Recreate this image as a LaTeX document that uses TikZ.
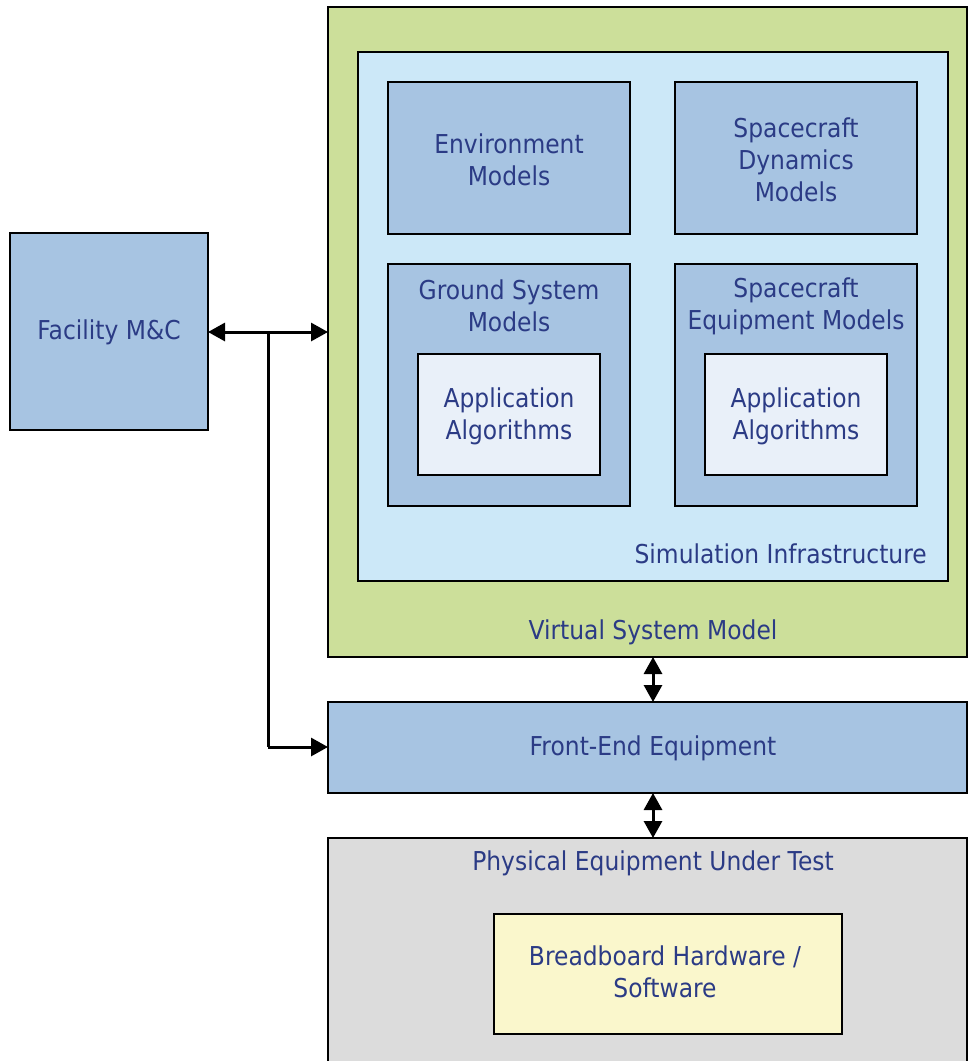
\documentclass[tikz,border=0pt]{standalone}
\usepackage{fontspec}
\setmainfont{DejaVu Sans}[FakeStretch=0.9]
\usetikzlibrary{arrows.meta}
\definecolor{txt}{HTML}{2B3B85}
\definecolor{bluebox}{HTML}{A7C4E2}
\definecolor{greenbox}{HTML}{CCDF9A}
\definecolor{lightblue}{HTML}{CCE8F8}
\definecolor{appbox}{HTML}{E9F0F9}
\definecolor{greybox}{HTML}{DCDCDC}
\definecolor{yellowbox}{HTML}{FAF7CC}
\tikzset{
  box/.style={draw=black, line width=2pt},
  lbl/.style={text=txt, font=\fontsize{26}{32}\selectfont, align=center, inner sep=0pt},
  conn/.style={line width=3pt, {Triangle[length=17pt,width=18pt]}-{Triangle[length=17pt,width=18pt]}},
  conn1/.style={line width=3pt, -{Triangle[length=17pt,width=18pt]}},
}
\begin{document}
\begin{tikzpicture}[x=1pt,y=-1pt]
\useasboundingbox (0,0) rectangle (968,1061);
% Facility
\draw[box, fill=bluebox] (10,233) rectangle (208,430);
\node[lbl] (fac) at (109,332) {Facility M\&C};
\coordinate (facE) at (208,332);
% VSM
\draw[box, fill=greenbox] (328,7) rectangle (967,657);
\node[lbl] (vsmlbl) at (653,632) {Virtual System Model};
\coordinate (vsmW) at (328,332);
\coordinate (vsmS) at (653,657);
% Sim infra
\draw[box, fill=lightblue] (358,52) rectangle (948,581);
\node[lbl, anchor=east] (silbl) at (927,554) {Simulation Infrastructure};
% inner
\draw[box, fill=bluebox] (388,82) rectangle (630,234);
\node[lbl] (env) at (509,160) {Environment\\Models};
\draw[box, fill=bluebox] (675,82) rectangle (917,234);
\node[lbl] (scd) at (796,160) {Spacecraft\\Dynamics\\Models};
\draw[box, fill=bluebox] (388,264) rectangle (630,506);
\node[lbl] (gsm) at (509,306) {Ground System\\Models};
\draw[box, fill=appbox] (418,354) rectangle (600,475);
\node[lbl] (app1) at (509,416) {Application\\Algorithms};
\draw[box, fill=bluebox] (675,264) rectangle (917,506);
\node[lbl] (sem) at (796,306) {Spacecraft\\Equipment Models};
\draw[box, fill=appbox] (705,354) rectangle (887,475);
\node[lbl] (app2) at (796,416) {Application\\Algorithms};
% Front end
\draw[box, fill=bluebox] (328,702) rectangle (967,793);
\node[lbl] (fe) at (653,748) {Front-End Equipment};
\coordinate (feN) at (653,702);
\coordinate (feS) at (653,793);
\coordinate (feW) at (328,747);
% Physical
\draw[box, fill=greybox] (328,838) rectangle (967,1075);
\node[lbl] (pe) at (653,863) {Physical Equipment Under Test};
\coordinate (peN) at (653,838);
\draw[box, fill=yellowbox] (494,914) rectangle (842,1034);
\node[lbl] (bb) at (665,972) {Breadboard Hardware /\\Software};
% connectors
\coordinate (jn) at (268,332);
\coordinate (jc) at (268,747);
\draw[conn] (facE) -- (vsmW);
\draw[line width=3pt] (jn) -- (jc);
\draw[conn1] (jc) -- (feW);
\draw[conn] (vsmS) -- (feN);
\draw[conn] (feS) -- (peN);
\end{tikzpicture}
\end{document}
